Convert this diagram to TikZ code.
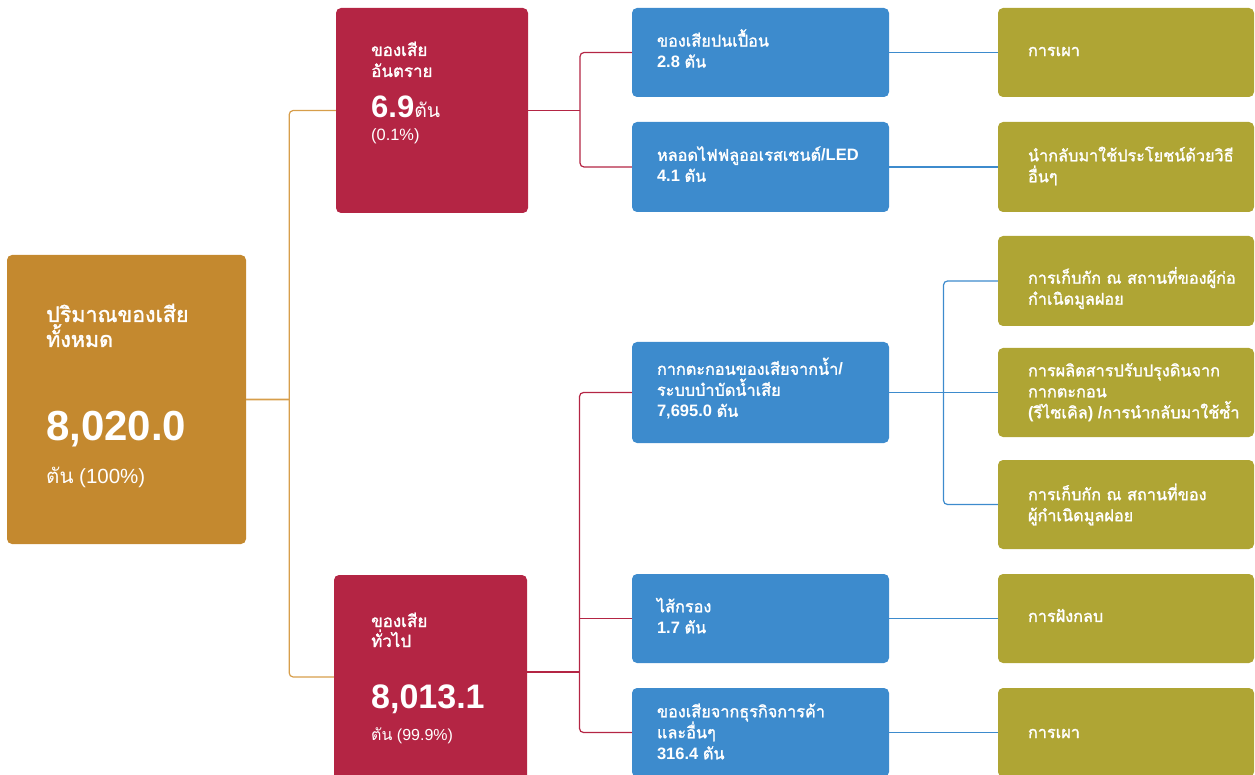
\documentclass[tikz,border=0pt]{standalone}
\usepackage{fontspec}
\setmainfont{Liberation Sans}
\newfontfamily\thf[Script=Thai]{Loma}
\newfontfamily\thfb[Script=Thai, Scale=0.985, FakeBold=1.6]{Loma}
\newcommand\thtxt[1]{{\thf #1}}
\newcommand\thb[1]{{\thfb\mdseries #1}}
\usetikzlibrary{calc}
\definecolor{cRoot}{RGB}{196,137,47}
\definecolor{cRed}{RGB}{180,37,68}
\definecolor{cBlue}{RGB}{61,139,205}
\definecolor{cOlive}{RGB}{175,165,52}
\definecolor{cGold}{RGB}{215,158,75}
\tikzset{
  box/.style={rectangle, rounded corners=5pt, inner sep=0pt, draw=none},
  bluebox/.style={box, fill=cBlue, minimum width=257pt},
  olivebox/.style={box, fill=cOlive, minimum width=256pt},
  btxt/.style={text=white, font=\bfseries\fontsize{16.5}{21}\selectfont, align=left, inner sep=0pt, anchor=west},
  wtxt/.style={text=white, inner sep=0pt, anchor=base west},
  conn/.style={line width=1.2pt, rounded corners=4pt},
  stem/.style={line width=1.7pt},
}
\begin{document}
\begin{tikzpicture}[x=1pt,y=-1pt]
\useasboundingbox (0,0) rectangle (1255,775);
\clip (0,0) rectangle (1255,775);
% boxes
\node[box, fill=cRoot, minimum width=239pt, minimum height=289pt] (root) at (126.5,399.5) {};
\node[box, fill=cRed, minimum width=192pt, minimum height=205pt] (redT) at (432,110.5) {};
\node[box, fill=cRed, minimum width=193pt, minimum height=215pt] (redB) at (430.5,682.5) {};
\node[bluebox, minimum height=89pt] (b1) at (760.5,52.5) {};
\node[bluebox, minimum height=90pt] (b2) at (760.5,167) {};
\node[bluebox, minimum height=101pt] (b3) at (760.5,392.5) {};
\node[bluebox, minimum height=89pt] (b4) at (760.5,618.5) {};
\node[bluebox, minimum height=89pt] (b5) at (760.5,732.5) {};
\node[olivebox, minimum height=89pt] (o1) at (1126,52.5) {};
\node[olivebox, minimum height=90pt] (o2) at (1126,167) {};
\node[olivebox, minimum height=90pt] (o3) at (1126,281) {};
\node[olivebox, minimum height=89pt] (o4) at (1126,392.5) {};
\node[olivebox, minimum height=89pt] (o5) at (1126,504.5) {};
\node[olivebox, minimum height=89pt] (o6) at (1126,618.5) {};
\node[olivebox, minimum height=89pt] (o7) at (1126,732.5) {};
% root text
\node[wtxt, font=\bfseries\fontsize{21.8}{27}\selectfont] (rt1) at (46,322) {\thb{ปริมาณของเสีย}};
\node[wtxt, font=\bfseries\fontsize{21.8}{27}\selectfont] (rt2) at (46,347) {\thb{ทั้งหมด}};
\node[wtxt, font=\bfseries\fontsize{42}{46}\selectfont] (rt3) at (46,440) {8,020.0};
\node[wtxt, font=\fontsize{20.5}{24}\selectfont] (rt4) at (46,483) {\thtxt{ตัน} (100\%)};
% red top text
\node[wtxt, font=\bfseries\fontsize{17.2}{20}\selectfont] (at1) at (371,56) {\thb{ของเสีย}};
\node[wtxt, font=\bfseries\fontsize{17.2}{20}\selectfont] (at2) at (371,77) {\thb{อันตราย}};
\node[wtxt, font=\bfseries\fontsize{31}{34}\selectfont] (at3) at (371,118) {6.9\mdseries\fontsize{19.4}{22}\selectfont\thtxt{ตัน}};
\node[wtxt, font=\fontsize{16.4}{19}\selectfont] (at4) at (371,141) {(0.1\%)};
% red bottom text
\node[wtxt, font=\bfseries\fontsize{17.2}{20}\selectfont] (gt1) at (371,627) {\thb{ของเสีย}};
\node[wtxt, font=\bfseries\fontsize{17.2}{20}\selectfont] (gt2) at (371,647) {\thb{ทั่วไป}};
\node[wtxt, font=\bfseries\fontsize{34}{37}\selectfont] (gt3) at (371,708) {8,013.1};
\node[wtxt, font=\fontsize{16}{19}\selectfont] (gt4) at (371,740) {\thtxt{ตัน} (99.9\%)};
% blue text
\node[btxt] (bt1) at ([xshift=25pt,yshift=4pt]b1.west) {\thb{ของเสียปนเปื้อน}\\2.8 \thb{ตัน}};
\node[btxt] (bt2) at ([xshift=25pt,yshift=3pt]b2.west) {\thb{หลอดไฟฟลูออเรสเซนต์}/LED\\4.1 \thb{ตัน}};
\node[btxt] (bt3) at ([xshift=25pt,yshift=4pt]b3.west) {\thb{กากตะกอนของเสียจากน้ำ}/\\\thb{ระบบบำบัดน้ำเสีย}\\7,695.0 \thb{ตัน}};
\node[btxt] (bt4) at ([xshift=25pt,yshift=3pt]b4.west) {\thb{ไส้กรอง}\\1.7 \thb{ตัน}};
\node[btxt] (bt5) at ([xshift=25pt,yshift=1pt]b5.west) {\thb{ของเสียจากธุรกิจการค้า}\\\thb{และอื่นๆ}\\316.4 \thb{ตัน}};
% olive text
\node[btxt] (ot1) at ([xshift=30pt,yshift=1pt]o1.west) {\thb{การเผา}};
\node[btxt] (ot2) at ([xshift=30pt,yshift=1pt]o2.west) {\thb{นำกลับมาใช้ประโยชน์ด้วยวิธี}\\\thb{อื่นๆ}};
\node[btxt] (ot3) at ([xshift=30pt,yshift=-7pt]o3.west) {\thb{การเก็บกัก ณ สถานที่ของผู้ก่อ}\\\thb{กำเนิดมูลฝอย}};
\node[btxt] (ot4) at ([xshift=30pt,yshift=0pt]o4.west) {\thb{การผลิตสารปรับปรุงดินจาก}\\\thb{กากตะกอน}\\(\thb{รีไซเคิล}) /\thb{การนำกลับมาใช้ซ้ำ}};
\node[btxt] (ot5) at ([xshift=30pt,yshift=0pt]o5.west) {\thb{การเก็บกัก ณ สถานที่ของ}\\\thb{ผู้กำเนิดมูลฝอย}};
\node[btxt] (ot6) at ([xshift=30pt,yshift=3pt]o6.west) {\thb{การฝังกลบ}};
\node[btxt] (ot7) at ([xshift=30pt,yshift=-1pt]o7.west) {\thb{การเผา}};
% connectors: root
\coordinate (jr) at ($(root.east)!0.48!(root.east -| redT.west)$);
\draw[cGold, stem] (root.east) -- (jr);
\draw[cGold, conn] (redT.west) -| (jr) |- ([yshift=5.5pt]redB.west);
% connectors: red top
\coordinate (jt) at ($(redT.east)!0.5!(redT.east -| b1.west)$);
\draw[cRed, stem] (redT.east) -- (jt);
\draw[cRed, conn] (b1.west) -| (jt) |- (b2.west);
% connectors: red bottom
\coordinate (jb) at ($([yshift=10.5pt]redB.east)!0.5!([yshift=10.5pt]redB.east -| b4.west)$);
\draw[cRed, stem] ([yshift=10.5pt]redB.east) -- (jb);
\draw[cRed, conn] (b3.west) -| (jb) |- (b5.west);
\draw[cRed, conn] (b4.west) -- (b4.west -| jb);
% connectors: blue
\draw[cBlue, stem] (b1.east) -- (o1.west);
\draw[cBlue, stem] (b2.east) -- (o2.west);
\draw[cBlue, stem] (b3.east) -- (o4.west);
\draw[cBlue, stem] (b4.east) -- (o6.west);
\draw[cBlue, stem] (b5.east) -- (o7.west);
\coordinate (jx) at ($(b3.east)!0.5!(o4.west)$);
\draw[cBlue, conn] (o3.west) -| (jx) |- (o5.west);
\end{tikzpicture}
\end{document}
